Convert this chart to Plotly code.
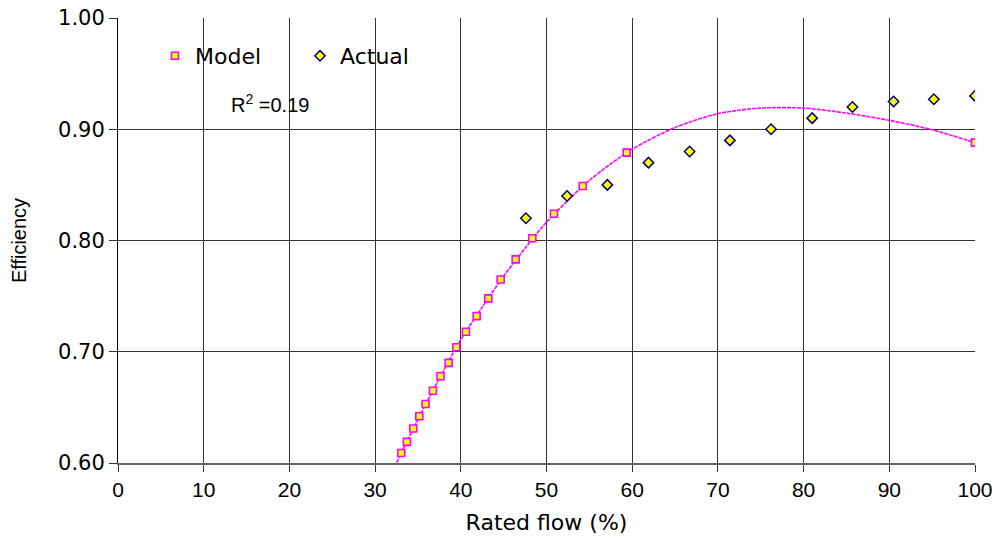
import plotly.graph_objects as go

# Model points (Rated flow %, Efficiency)
model_x = [33.06, 33.71, 34.46, 35.16, 35.89, 36.75, 37.64, 38.58, 39.48, 40.6,
           41.85, 43.21, 44.65, 46.4, 48.35, 50.87, 54.22, 59.36, 100.0]
model_y = [0.609, 0.619, 0.631, 0.642, 0.653, 0.665, 0.678, 0.690, 0.704, 0.718,
           0.732, 0.748, 0.765, 0.783, 0.802, 0.824, 0.849, 0.879, 0.888]

# Actual measured points
actual_x = [47.6, 52.4, 57.1, 61.9, 66.7, 71.4, 76.2, 81.0, 85.7, 90.5, 95.2, 100.0]
actual_y = [0.820, 0.840, 0.850, 0.870, 0.880, 0.890, 0.900, 0.910, 0.920, 0.925, 0.927, 0.930]

# Trend curve
curve_x = [32.0, 33.06, 35.0, 37.64, 40.0, 42.5, 45.0, 47.5, 50.0, 55.0, 60.0, 65.0,
           70.0, 75.0, 80.0, 85.0, 90.0, 95.0, 100.0]
curve_y = [0.592, 0.609, 0.639, 0.678, 0.711, 0.740, 0.768, 0.793, 0.8165, 0.854, 0.882, 0.9015,
           0.914, 0.919, 0.919, 0.9145, 0.908, 0.8995, 0.888]

x_ticks = [0, 10, 20, 30, 40, 50, 60, 70, 80, 90, 100]
y_ticks = [0.6, 0.7, 0.8, 0.9, 1.0]

ARIAL = "Liberation Sans, Arial, sans-serif"
WIDE = "DejaVu Sans, Verdana, sans-serif"

PL, PT, PW, PH = 118, 18, 857, 445  # plot area left / top / width / height in px


def py(px):
    """pixel row -> paper y fraction"""
    return (PT + PH - px) / PH


def pxf(px):
    """pixel column -> paper x fraction"""
    return (px - PL) / PW


fig = go.Figure()
fig.add_trace(go.Scatter(
    x=curve_x, y=curve_y, mode="lines",
    line=dict(color="#FF00FF", width=1.6, shape="spline", smoothing=0.8, dash="4px,1px"),
    showlegend=False, hoverinfo="skip"))
fig.add_trace(go.Scatter(
    x=model_x, y=model_y, mode="markers", name="Model",
    marker=dict(symbol="square", size=7, color="#FFFF00", line=dict(color="#FF00FF", width=1.6))))
fig.add_trace(go.Scatter(
    x=actual_x, y=actual_y, mode="markers", name="Actual",
    marker=dict(symbol="diamond", size=8, color="#FFFF00", line=dict(color="#000080", width=1.5))))

# white boxes behind legend and R² label (hide grid lines like the original)
fig.add_shape(type="rect", xref="paper", yref="paper", x0=pxf(140), x1=pxf(432),
              y0=py(85), y1=py(22), fillcolor="white", line=dict(width=0), layer="between")
fig.add_shape(type="rect", xref="paper", yref="paper", x0=pxf(206), x1=pxf(374),
              y0=py(125), y1=py(84), fillcolor="white", line=dict(width=0), layer="between")
fig.add_annotation(x=17.7, y=0.9235, xref="x", yref="y", text="R<sup>2</sup> =0.19", showarrow=False,
                   font=dict(family=ARIAL, size=20, color="black"))

fig.update_layout(
    width=999, height=543,
    margin=dict(l=PL, r=24, t=PT, b=80, autoexpand=False),
    paper_bgcolor="white", plot_bgcolor="white",
    font=dict(family=ARIAL, size=18, color="black"),
    showlegend=True,
    legend=dict(orientation="h", x=pxf(155), y=py(35), xanchor="left", yanchor="top",
                bgcolor="rgba(0,0,0,0)", borderwidth=0, font=dict(family=WIDE, size=22),
                entrywidth=100, entrywidthmode="pixels", itemwidth=30),
    xaxis=dict(range=[0, 100], tickvals=x_ticks, ticks="outside", ticklen=7, tickcolor="#333",
               showgrid=True, gridcolor="#333", gridwidth=1, automargin=False,
               showline=True, linecolor="#666", linewidth=2, zeroline=False,
               title=dict(text="Rated flow (%)", font=dict(family=WIDE, size=22), standoff=14),
               tickfont=dict(family=ARIAL, size=21)),
    yaxis=dict(range=[0.6, 1.0], tickvals=y_ticks, tickformat=".2f", ticks="outside", ticklen=8,
               tickcolor="#333", showgrid=True, gridcolor="#333", gridwidth=1, automargin=False,
               showline=True, linecolor="black", linewidth=1, zeroline=False,
               title=dict(text="Efficiency", font=dict(family=ARIAL, size=20), standoff=26),
               tickfont=dict(family=WIDE, size=21)),
)

fig.write_html("out.html")
